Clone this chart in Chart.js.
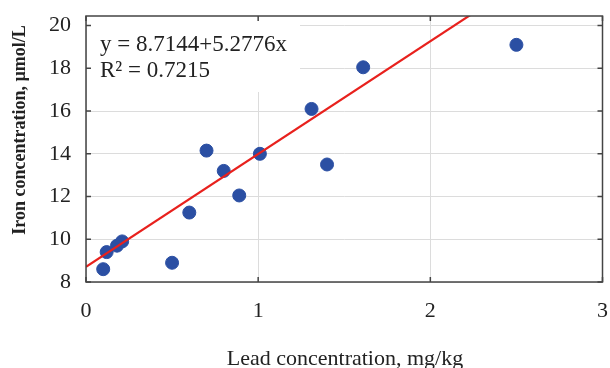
<!DOCTYPE html>
<html lang="en">
<head>
  <meta charset="UTF-8">
  <title>Iron vs Lead</title>
  <script src="https://cdn.jsdelivr.net/npm/chart.js"></script>
  <style>
    body { margin: 0; background: #fff; }
    #wrap { width: 610px; height: 368px; }
  </style>
</head>
<body>
  <div id="wrap"><canvas id="chart" width="610" height="368"></canvas></div>
  <script>
    // measured points (lead mg/kg, iron umol/L)
    const leadValues = [0.10, 0.12, 0.18, 0.21, 0.50, 0.60, 0.70, 0.80, 0.89, 1.01, 1.31, 1.40, 1.61, 2.50];
    const ironValues = [8.6, 9.4, 9.7, 9.9, 8.9, 11.25, 14.15, 13.2, 12.05, 14.0, 16.1, 13.5, 18.05, 19.1];
    const fitIntercept = 8.7144;
    const fitSlope = 5.2776;
    const fitText = ['y = 8.7144+5.2776x', 'R\u00b2 = 0.7215'];
    const xTicks = [0, 1, 2, 3];
    const yTicks = [8, 10, 12, 14, 16, 18, 20];
    const xTitle = 'Lead concentration, mg/kg';
    const yTitle = 'Iron concentration, \u00b5mol/L';

    const serif = '"Liberation Serif", "DejaVu Serif", serif';
    const points = leadValues.map((x, i) => ({ x: x, y: ironValues[i] }));
    const fitLine = [0, 3].map(x => ({ x: x, y: fitIntercept + fitSlope * x }));

    const frame = {
      id: 'frame',
      beforeDatasetsDraw(chart) {
        const c = chart.ctx, a = chart.chartArea;
        // white label box over the grid
        c.save();
        c.fillStyle = '#fff';
        c.fillRect(a.left + 1, a.top + 1, 213, 75);
        c.restore();
      },
      afterDraw(chart) {
        const c = chart.ctx, a = chart.chartArea;
        const xs = chart.scales.x, ys = chart.scales.y;
        c.save();
        c.strokeStyle = '#444';
        c.lineWidth = 1.5;
        c.strokeRect(a.left, a.top, a.right - a.left, a.bottom - a.top);
        c.beginPath();
        xTicks.forEach(v => {
          const px = xs.getPixelForValue(v);
          c.moveTo(px, a.bottom); c.lineTo(px, a.bottom - 5);
          c.moveTo(px, a.top); c.lineTo(px, a.top + 5);
        });
        yTicks.forEach(v => {
          const py = ys.getPixelForValue(v);
          c.moveTo(a.left, py); c.lineTo(a.left + 5, py);
          c.moveTo(a.right, py); c.lineTo(a.right - 5, py);
        });
        c.stroke();

        c.fillStyle = '#222';
        c.textBaseline = 'middle';
        c.font = '22px ' + serif;
        c.textAlign = 'center';
        xTicks.forEach(v => c.fillText(String(v), xs.getPixelForValue(v), a.bottom + 29));
        c.textAlign = 'right';
        yTicks.forEach(v => c.fillText(String(v), a.left - 15, ys.getPixelForValue(v)));

        c.textAlign = 'left';
        c.font = '23px ' + serif;
        c.fillText(fitText[0], a.left + 14, a.top + 29);
        c.fillText(fitText[1], a.left + 14, a.top + 55);

        c.textAlign = 'center';
        c.font = '22px ' + serif;
        c.fillText(xTitle, 345, 359);
        c.translate(20, 130);
        c.rotate(-Math.PI / 2);
        c.font = 'bold 18px ' + serif;
        c.fillText(yTitle, 0, 0);
        c.restore();
      }
    };

    new Chart(document.getElementById('chart'), {
      type: 'scatter',
      data: {
        datasets: [{
          type: 'line',
          data: fitLine,
          borderColor: '#e8211d',
          borderWidth: 2.2,
          pointRadius: 0,
          fill: false
        }, {
          data: points,
          backgroundColor: '#2b4fa3',
          borderColor: '#2b4fa3',
          pointRadius: 6.5
        }]
      },
      options: {
        responsive: false,
        animation: false,
        events: [],
        layout: { padding: { left: 0, right: 7, top: 16, bottom: 0 } },
        plugins: { legend: { display: false }, tooltip: { enabled: false } },
        scales: {
          x: {
            type: 'linear',
            min: 0, max: 3,
            afterBuildTicks: s => { s.ticks = xTicks.map(v => ({ value: v })); },
            afterFit: s => { s.height = 86; },
            border: { display: false },
            grid: { color: '#dcdcdc', drawTicks: false },
            ticks: { display: false }
          },
          y: {
            min: 8, max: 20.45,
            afterBuildTicks: s => { s.ticks = yTicks.map(v => ({ value: v })); },
            afterFit: s => { s.width = 86; },
            border: { display: false },
            grid: { color: '#dcdcdc', drawTicks: false },
            ticks: { display: false }
          }
        }
      },
      plugins: [frame]
    });
  </script>
</body>
</html>
